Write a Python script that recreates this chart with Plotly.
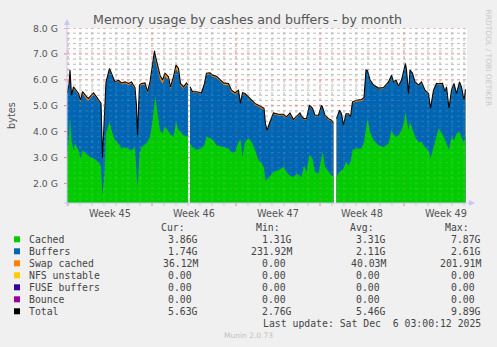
import pandas as pd
import plotly.graph_objects as go

# ---------------- data (values in G, time in hours since 2025-11-03 00:00) ----------------
hours = [-2, 2, 4, 7, 11, 14, 21, 25, 29, 37,
         41, 44, 51, 57, 63, 66, 69, 73, 76, 83,
         87, 94, 101, 107, 114, 121, 127, 134, 137, 139,
         143, 147, 154, 159, 164, 169, 173, 175, 179, 184,
         189, 194, 201, 205, 211, 216, 221, 225, 231, 237,
         240, 241, 244, 249, 257, 267, 273, 277, 284, 289,
         297, 304, 311, 321, 327, 334, 341, 345, 349, 354,
         361, 367, 374, 381, 387, 392, 395, 398, 404, 411,
         421, 431, 437, 444, 451, 457, 464, 467, 472, 477,
         483, 489, 494, 501, 507, 509, 514, 521, 527, 531,
         533, 537, 543, 547, 551, 556, 561, 565, 569, 577,
         587, 592, 596, 599, 604, 611, 621, 631, 641, 647,
         651, 656, 661, 667, 672, 675, 677, 681, 684, 689,
         694, 701, 707, 714, 721, 725, 731, 737, 741, 749,
         754, 757, 762, 767, 772, 777, 783, 787, 792, 795]

total = [5.47, 5.80, 6.38, 5.40, 5.73, 5.65, 5.47, 5.21, 5.54, 5.35,
         5.28, 5.35, 5.50, 5.34, 5.20, 5.10, 3.00, 4.40, 5.90, 6.44,
         6.25, 5.92, 5.99, 5.88, 5.92, 5.86, 5.92, 5.70, 5.00, 3.86,
         5.80, 5.86, 5.88, 5.54, 5.92, 6.50, 7.12, 6.90, 6.57, 6.18,
         5.99, 6.25, 6.12, 5.73, 6.12, 6.57, 6.44, 5.86, 5.73, 5.88,
         5.80, None, 5.73, 5.54, 5.54, 5.50, 5.86, 6.25, 6.27, 6.18,
         6.14, 5.99, 5.88, 5.86, 5.60, 5.50, 5.60, 5.09, 5.50, 5.47,
         5.34, 5.21, 5.09, 5.02, 4.96, 4.90, 4.30, 4.05, 4.38, 4.72,
         4.67, 4.67, 4.57, 4.72, 4.47, 4.57, 4.72, 4.60, 4.50, 4.50,
         5.02, 4.90, 4.63, 4.63, 5.02, 4.95, 4.63, 4.50, 4.44, 4.31,
         None, 4.50, 4.83, 4.69, 4.25, 4.69, 4.69, 4.57, 5.15, 5.21,
         5.24, 5.31, 6.38, 6.35, 6.00, 5.80, 5.68, 5.70, 5.92, 6.18,
         5.92, 5.99, 5.76, 5.99, 6.40, 6.63, 6.38, 5.47, 6.38, 6.25,
         5.92, 5.80, 5.92, 5.60, 5.47, 4.90, 5.60, 5.86, 5.85, 5.86,
         5.54, 5.73, 4.90, 5.60, 5.86, 5.47, 5.92, 5.73, 5.21, 5.63]

cached = [2.96, 3.80, 4.57, 3.67, 3.28, 3.54, 3.28, 2.96, 3.28, 3.15,
          3.10, 3.02, 2.96, 2.89, 2.77, 2.64, 1.54, 2.38, 3.93, 4.38,
          4.05, 3.67, 3.54, 3.35, 3.40, 3.35, 3.28, 3.41, 2.50, 1.86,
          3.15, 3.41, 3.50, 3.60, 3.80, 4.40, 5.10, 5.34, 4.70, 4.05,
          3.93, 4.20, 4.00, 3.90, 3.80, 4.38, 4.05, 4.00, 3.86, 3.80,
          3.80, None, 3.54, 3.40, 3.30, 3.35, 3.50, 3.80, 3.75, 3.70,
          3.47, 3.45, 3.41, 3.35, 3.20, 3.20, 3.60, 3.70, 3.02, 3.60,
          3.75, 3.60, 3.30, 2.89, 2.80, 2.60, 2.12, 2.15, 2.30, 2.45,
          2.51, 2.64, 2.44, 2.30, 2.25, 2.38, 2.30, 2.25, 2.70, 2.44,
          3.12, 2.96, 2.44, 2.38, 3.00, 3.24, 2.64, 2.44, 2.31, 2.25,
          None, 2.25, 2.45, 2.51, 2.57, 2.83, 2.70, 2.83, 3.30, 3.35,
          3.35, 3.60, 4.20, 4.50, 3.99, 3.67, 3.47, 3.41, 3.54, 4.05,
          3.90, 3.80, 3.86, 4.05, 4.38, 4.76, 4.50, 4.05, 4.38, 4.10,
          3.80, 3.60, 3.60, 3.41, 3.28, 2.96, 3.40, 3.80, 4.12, 3.90,
          3.67, 3.50, 3.30, 3.80, 3.67, 3.93, 3.99, 3.80, 3.54, 3.86]

swap = [0.03, 0.03, 0.03, 0.04, 0.05, 0.06, 0.08, 0.10, 0.08, 0.10,
        0.09, 0.08, 0.07, 0.06, 0.06, 0.05, 0.02, 0.03, 0.05, 0.06,
        0.06, 0.05, 0.05, 0.05, 0.06, 0.06, 0.06, 0.07, 0.04, 0.02,
        0.05, 0.06, 0.07, 0.08, 0.10, 0.12, 0.15, 0.18, 0.20, 0.16,
        0.14, 0.12, 0.12, 0.10, 0.12, 0.15, 0.18, 0.10, 0.08, 0.07,
        0.06, None, 0.04, 0.04, 0.04, 0.04, 0.05, 0.06, 0.06, 0.06,
        0.06, 0.06, 0.07, 0.08, 0.08, 0.07, 0.06, 0.04, 0.05, 0.05,
        0.05, 0.05, 0.05, 0.06, 0.07, 0.08, 0.05, 0.04, 0.04, 0.05,
        0.05, 0.05, 0.05, 0.05, 0.05, 0.05, 0.05, 0.05, 0.05, 0.05,
        0.05, 0.05, 0.05, 0.05, 0.05, 0.05, 0.05, 0.05, 0.05, 0.05,
        None, 0.03, 0.04, 0.04, 0.04, 0.04, 0.04, 0.04, 0.05, 0.06,
        0.06, 0.06, 0.04, 0.04, 0.04, 0.04, 0.04, 0.04, 0.04, 0.04,
        0.04, 0.04, 0.04, 0.04, 0.04, 0.04, 0.04, 0.03, 0.04, 0.04,
        0.04, 0.04, 0.05, 0.05, 0.05, 0.04, 0.04, 0.04, 0.05, 0.06,
        0.06, 0.05, 0.04, 0.04, 0.04, 0.04, 0.04, 0.04, 0.04, 0.04]

week_labels = ["Week 45", "Week 46", "Week 47", "Week 48", "Week 49"]
y_ticks = [2, 3, 4, 5, 6, 7, 8]
y_ticktext = ["2.0 G", "3.0 G", "4.0 G", "5.0 G", "6.0 G", "7.0 G", "8.0 G"]

legend_names = ["Cached", "Buffers", "Swap cached", "NFS unstable", "FUSE buffers", "Bounce", "Total"]
legend_colors = ["#00CC00", "#0066B3", "#FF8000", "#FFCC00", "#330099", "#990099", "#000000"]
cur_vals = ["3.86G", "1.74G", "36.12M", "0.00", "0.00", "0.00", "5.63G"]
min_vals = ["1.31G", "231.92M", "0.00", "0.00", "0.00", "0.00", "2.76G"]
avg_vals = ["3.31G", "2.11G", "40.03M", "0.00", "0.00", "0.00", "5.46G"]
max_vals = ["7.87G", "2.61G", "201.91M", "0.00", "0.00", "0.00", "9.89G"]

# ---------------- geometry ----------------
W, H = 497, 347
L, R, T, B = 67, 467, 28, 203
base = pd.Timestamp("2025-11-03 00:00")
times = [base + pd.Timedelta(hours=h) for h in hours]
x_start = base - pd.Timedelta(hours=2)
x_end = base + pd.Timedelta(hours=798)
y_lo = 8.0 - (B - T) / 25.9
y_hi = 8.0


def px(x):
    return (x - L) / (R - L)


def py(y):
    return (B - y) / (B - T)


buf_top = [None if t is None else t - s for t, s in zip(total, swap)]

# split into contiguous segments at the data gaps (None)
segments = []
cur = []
for i, v in enumerate(total):
    if v is None:
        if cur:
            segments.append(cur)
        cur = []
    else:
        cur.append(i)
if cur:
    segments.append(cur)

fig = go.Figure()
for seg in segments:
    xs = [times[i] for i in seg]
    for ys, col in [(total, "#FF8000"), (buf_top, "#0066B3"), (cached, "#00CC00")]:
        fig.add_trace(go.Scatter(x=xs, y=[ys[i] for i in seg], mode="lines", line=dict(width=0),
                                 fill="tozeroy", fillcolor=col, hoverinfo="skip"))
for seg in segments:
    fig.add_trace(go.Scatter(x=[times[i] for i in seg], y=[total[i] for i in seg], mode="lines",
                             line=dict(width=1.1, color="#000000"), hoverinfo="skip"))

MAJ_BELOW = "rgba(235,120,120,0.75)"
MIN_BELOW = "rgba(165,165,165,0.7)"
MAJ_ABOVE = "rgba(235,120,120,0.22)"
MIN_ABOVE = "rgba(200,200,200,0.2)"

shapes = []
ndays = 34
for d in range(ndays):
    t = base + pd.Timedelta(days=d)
    major = (d % 7 == 0)
    for lay, cm, cn in [("below", MAJ_BELOW, MIN_BELOW), ("above", MAJ_ABOVE, MIN_ABOVE)]:
        shapes.append(dict(type="line", xref="x", yref="paper", x0=t, x1=t, y0=0, y1=1, layer=lay,
                           line=dict(color=cm if major else cn, width=1, dash="dot")))
    shapes.append(dict(type="line", xref="x", yref="paper", x0=t, x1=t, y0=0, y1=py(B + 3),
                       line=dict(color="#E88080" if major else "#C8C8C8", width=1)))
k = 7
while k <= 40:
    v = k * 0.2
    if v > y_lo:
        major = (k % 5 == 0)
        for lay, cm, cn in [("below", MAJ_BELOW, MIN_BELOW), ("above", MAJ_ABOVE, MIN_ABOVE)]:
            shapes.append(dict(type="line", xref="paper", yref="y", x0=0, x1=1, y0=v, y1=v, layer=lay,
                               line=dict(color=cm if major else cn, width=1, dash="dot")))
        if major:
            shapes.append(dict(type="line", xref="paper", yref="y", x0=px(L - 3), x1=0, y0=v, y1=v,
                               line=dict(color="#E88080", width=1)))
    k += 1

axis_col = "#C8C8F0"
shapes.append(dict(type="line", xref="paper", yref="paper", x0=px(L), x1=px(L), y0=py(B + 3), y1=py(24),
                   line=dict(color=axis_col, width=1)))
shapes.append(dict(type="line", xref="paper", yref="paper", x0=px(L - 3), x1=px(470), y0=0, y1=0,
                   line=dict(color=axis_col, width=1)))
shapes.append(dict(type="path", xref="paper", yref="paper",
                   path=f"M {px(L-3)},{py(25)} L {px(L+3)},{py(25)} L {px(L)},{py(19)} Z",
                   fillcolor=axis_col, line=dict(width=0)))
shapes.append(dict(type="path", xref="paper", yref="paper",
                   path=f"M {px(469)},{py(B-3)} L {px(469)},{py(B+3)} L {px(475)},{py(B)} Z",
                   fillcolor=axis_col, line=dict(width=0)))

annotations = []
for i, lab in enumerate(week_labels):
    t = base + pd.Timedelta(days=7 * i + 3.5)
    annotations.append(dict(x=t, xref="x", y=py(213), yref="paper", text=lab, showarrow=False,
                            xanchor="center", yanchor="middle",
                            font=dict(family="DejaVu Sans", size=9.7, color="#555555")))
for v, s in zip(y_ticks, y_ticktext):
    annotations.append(dict(x=px(59.5), xref="paper", y=v, yref="y", text=s, showarrow=False,
                            xanchor="right", yanchor="middle",
                            font=dict(family="DejaVu Sans", size=9.3, color="#555555")))
annotations.append(dict(x=px(11), xref="paper", y=py(115), yref="paper", text="bytes", showarrow=False,
                        textangle=-90, xanchor="center", yanchor="middle",
                        font=dict(family="DejaVu Sans", size=9.7, color="#555555")))
annotations.append(dict(x=px(487.5), xref="paper", y=py(58), yref="paper", text="RRDTOOL / TOBI OETIKER",
                        showarrow=False, textangle=90, xanchor="center", yanchor="middle",
                        font=dict(family="DejaVu Sans", size=7.5, color="#C8C8C8")))

mono = dict(family="DejaVu Sans Mono", size=9.8, color="#444444")
nb = "\u00a0"
row_y0, row_dy = 239.3, 12.0
hdr_y = 227.7
for txt, xr in [("Cur:", 187), ("Min:", 282), ("Avg:", 376), ("Max:", 470.5)]:
    annotations.append(dict(x=px(xr), xref="paper", y=py(hdr_y), yref="paper", text=txt,
                            showarrow=False, xanchor="right", yanchor="middle", font=mono))


def fmt(v):
    return v if v[-1].isalpha() else v + nb


for i, name in enumerate(legend_names):
    yy = row_y0 + i * row_dy
    shapes.append(dict(type="rect", xref="paper", yref="paper", x0=px(14), x1=px(20),
                       y0=py(yy - 3), y1=py(yy + 3), fillcolor=legend_colors[i], line=dict(width=0)))
    annotations.append(dict(x=px(26.5), xref="paper", y=py(yy), yref="paper", text=name.replace(" ", nb),
                            showarrow=False, xanchor="left", yanchor="middle", font=mono))
    for vals, xr in [(cur_vals, 199.5), (min_vals, 294.3), (avg_vals, 388), (max_vals, 483)]:
        annotations.append(dict(x=px(xr), xref="paper", y=py(yy), yref="paper", text=fmt(vals[i]),
                                showarrow=False, xanchor="right", yanchor="middle", font=mono))

annotations.append(dict(x=px(483), xref="paper", y=py(323.3), yref="paper",
                        text="Last" + nb + "update:" + nb + "Sat" + nb + "Dec" + nb + nb + "6" + nb + "03:00:12" + nb + "2025",
                        showarrow=False, xanchor="right", yanchor="middle", font=mono))
annotations.append(dict(x=px(248), xref="paper", y=py(335.7), yref="paper", text="Munin 2.0.73",
                        showarrow=False, xanchor="center", yanchor="middle",
                        font=dict(family="DejaVu Sans", size=7.5, color="#C0C0C0")))

fig.update_layout(
    width=W, height=H,
    margin=dict(l=L, r=W - R, t=T, b=H - B, pad=0),
    paper_bgcolor="#F0F0F0", plot_bgcolor="#FFFFFF",
    showlegend=False, hovermode=False,
    title=dict(text="Memory usage by cashes and buffers - by month", x=247.5 / W, xref="container",
               xanchor="center", y=1 - 19.3 / H, yref="container", yanchor="middle",
               font=dict(family="DejaVu Sans", size=12.6, color="#555555")),
    xaxis=dict(type="date", range=[x_start, x_end], showgrid=False, zeroline=False,
               showticklabels=False, ticks="", showline=False, fixedrange=True),
    yaxis=dict(range=[y_lo, y_hi], showgrid=False, zeroline=False, showticklabels=False,
               ticks="", showline=False, fixedrange=True),
    shapes=shapes, annotations=annotations,
)

fig.write_html("out.html")
